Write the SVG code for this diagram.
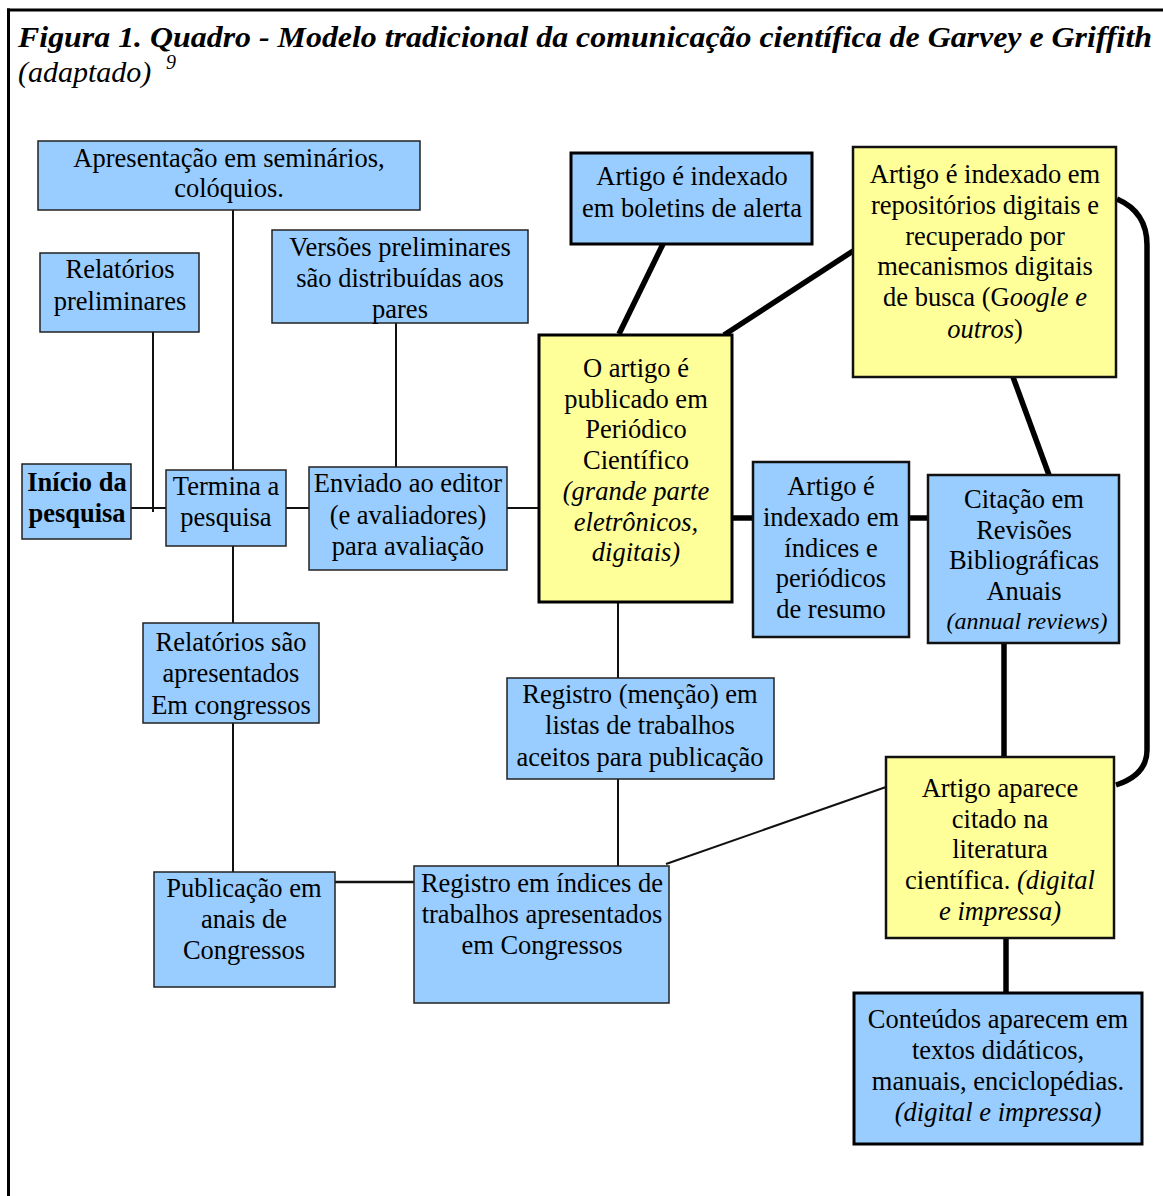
<svg xmlns="http://www.w3.org/2000/svg" width="1163" height="1196" viewBox="0 0 1163 1196" font-family="Liberation Serif, serif">
<style>
text{font-family:Liberation Serif, serif;font-size:26.5px;fill:#000;text-anchor:middle}
.it{font-style:italic}
.b{font-weight:bold}
.blue{fill:#99CCFF}
.yel{fill:#FFFF99}
.thin{stroke:#222;stroke-width:1.5}
.mid{stroke:#111;stroke-width:2.5}
.thk{stroke:#000;stroke-width:3}
.c1{stroke:#111;stroke-width:2;fill:none}
.c2{stroke:#000;stroke-width:5.5;fill:none}
.c3{stroke:#111;stroke-width:2.5;fill:none}
</style>
<rect width="1163" height="1196" fill="#fff"/>
<g id="frame">
<line x1="8.5" y1="8.5" x2="8.5" y2="1196" stroke="#000" stroke-width="3"/>
<line x1="7" y1="10" x2="1163" y2="10" stroke="#000" stroke-width="3"/>
</g>
<g id="title">
<text x="18" y="47" class="it b" style="text-anchor:start;font-size:30px" textLength="1134" lengthAdjust="spacingAndGlyphs">Figura 1. Quadro - Modelo tradicional da comunicação científica de Garvey e Griffith</text>
<text x="18" y="82" class="it" style="text-anchor:start;font-size:30px">(adaptado)</text>
<text x="166" y="69" class="it" style="text-anchor:start;font-size:20px">9</text>
</g>
<g id="connectors">
<line class="c1" x1="233" y1="210" x2="233" y2="470"/>
<line class="c1" x1="233" y1="546" x2="233" y2="623"/>
<line class="c1" x1="233" y1="723" x2="233" y2="872"/>
<line class="c1" x1="153" y1="332" x2="153" y2="512"/>
<line class="c1" x1="131" y1="508" x2="166" y2="508"/>
<line class="c1" x1="286" y1="508" x2="309" y2="508"/>
<line class="c1" x1="396" y1="323" x2="396" y2="467"/>
<line class="c1" x1="507" y1="508" x2="539" y2="508"/>
<line class="c1" x1="618" y1="602" x2="618" y2="678"/>
<line class="c1" x1="618" y1="779" x2="618" y2="866"/>
<line class="c1" x1="666" y1="864" x2="886" y2="787"/>
<line class="c3" x1="335" y1="882" x2="414" y2="882"/>
<line class="c2" x1="663" y1="244" x2="619" y2="334"/>
<line class="c2" x1="853" y1="251" x2="724" y2="335"/>
<line class="c2" x1="732" y1="518" x2="753" y2="518"/>
<line class="c2" x1="909" y1="518" x2="928" y2="518"/>
<line class="c2" x1="1013" y1="377" x2="1049" y2="475"/>
<line class="c2" x1="1004" y1="643" x2="1004" y2="757"/>
<line class="c2" x1="1006" y1="938" x2="1006" y2="993"/>
<path class="c2" d="M1117,199 Q1147,212 1147,245 L1147,750 Q1147,775 1116,785"/>
</g>
<g id="n1">
<rect class="blue thin" x="38" y="141" width="382" height="69"/>
<text x="229" y="167">Apresentação em seminários,</text>
<text x="229" y="197">colóquios.</text>
</g>
<g id="n2">
<rect class="blue thin" x="40" y="253" width="159" height="79"/>
<text x="120" y="278">Relatórios</text>
<text x="120" y="310">preliminares</text>
</g>
<g id="n3">
<rect class="blue thin" x="272" y="230" width="256" height="93"/>
<text x="400" y="256">Versões preliminares</text>
<text x="400" y="287">são distribuídas aos</text>
<text x="400" y="318">pares</text>
</g>
<g id="n4">
<rect class="blue thin" x="22" y="464" width="109" height="75"/>
<text x="77" y="491" class="b">Início da</text>
<text x="77" y="522" class="b">pesquisa</text>
</g>
<g id="n5">
<rect class="blue thin" x="166" y="470" width="120" height="76"/>
<text x="226" y="495">Termina a</text>
<text x="226" y="526">pesquisa</text>
</g>
<g id="n6">
<rect class="blue thin" x="309" y="467" width="198" height="103"/>
<text x="408" y="492">Enviado ao editor</text>
<text x="408" y="524">(e avaliadores)</text>
<text x="408" y="555">para avaliação</text>
</g>
<g id="n7">
<rect class="yel thk" x="539" y="335" width="193" height="267"/>
<text x="636" y="377">O artigo é</text>
<text x="636" y="408">publicado em</text>
<text x="636" y="438">Periódico</text>
<text x="636" y="469">Científico</text>
<text x="636" y="500" class="it">(grande parte</text>
<text x="636" y="531" class="it">eletrônicos,</text>
<text x="636" y="561" class="it">digitais)</text>
</g>
<g id="n8">
<rect class="blue thk" x="571" y="153" width="241" height="91"/>
<text x="692" y="185">Artigo é indexado</text>
<text x="692" y="217">em boletins de alerta</text>
</g>
<g id="n9">
<rect class="yel mid" x="853" y="147" width="263" height="230"/>
<text x="985" y="183">Artigo é indexado em</text>
<text x="985" y="214">repositórios digitais e</text>
<text x="985" y="245">recuperado por</text>
<text x="985" y="275">mecanismos digitais</text>
<text x="985" y="306">de busca (G<tspan class="it">oogle e</tspan></text>
<text x="985" y="338"><tspan class="it">outros</tspan>)</text>
</g>
<g id="n10">
<rect class="blue mid" x="753" y="462" width="156" height="175"/>
<text x="831" y="495">Artigo é</text>
<text x="831" y="526">indexado em</text>
<text x="831" y="557">índices e</text>
<text x="831" y="587">periódicos</text>
<text x="831" y="618">de resumo</text>
</g>
<g id="n11">
<rect class="blue mid" x="928" y="475" width="191" height="168"/>
<text x="1024" y="508">Citação em</text>
<text x="1024" y="539">Revisões</text>
<text x="1024" y="569">Bibliográficas</text>
<text x="1024" y="600">Anuais</text>
<text x="1027" y="629" class="it" style="font-size:24px">(annual reviews)</text>
</g>
<g id="n12">
<rect class="blue thin" x="143" y="623" width="176" height="100"/>
<text x="231" y="651">Relatórios são</text>
<text x="231" y="682">apresentados</text>
<text x="231" y="714">Em congressos</text>
</g>
<g id="n13">
<rect class="blue thin" x="507" y="678" width="267" height="101"/>
<text x="640" y="703">Registro (menção) em</text>
<text x="640" y="734">listas de trabalhos</text>
<text x="640" y="766">aceitos para publicação</text>
</g>
<g id="n14">
<rect class="yel mid" x="886" y="757" width="228" height="181"/>
<text x="1000" y="797">Artigo aparece</text>
<text x="1000" y="828">citado na</text>
<text x="1000" y="858">literatura</text>
<text x="1000" y="889">científica. <tspan class="it">(digital</tspan></text>
<text x="1000" y="920" class="it">e impressa)</text>
</g>
<g id="n15">
<rect class="blue thin" x="154" y="872" width="181" height="115"/>
<text x="244" y="897">Publicação em</text>
<text x="244" y="928">anais de</text>
<text x="244" y="959">Congressos</text>
</g>
<g id="n16">
<rect class="blue thin" x="414" y="866" width="255" height="137"/>
<text x="542" y="892">Registro em índices de</text>
<text x="542" y="923">trabalhos apresentados</text>
<text x="542" y="954">em Congressos</text>
</g>
<g id="n17">
<rect class="blue thk" x="854" y="993" width="288" height="151"/>
<text x="998" y="1028">Conteúdos aparecem em</text>
<text x="998" y="1059">textos didáticos,</text>
<text x="998" y="1090">manuais, enciclopédias.</text>
<text x="998" y="1121" class="it">(digital e impressa)</text>
</g>
</svg>
